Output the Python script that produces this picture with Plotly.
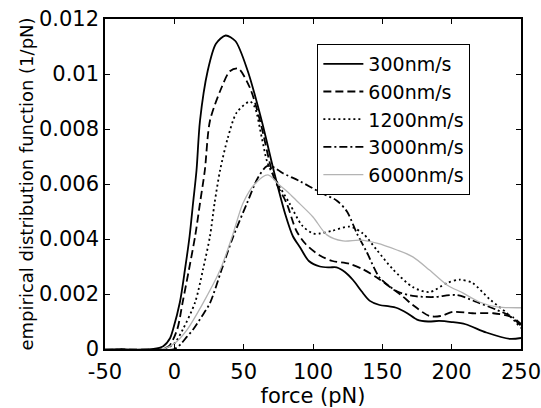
import plotly.graph_objects as go

labels = ["300nm/s", "600nm/s", "1200nm/s", "3000nm/s", "6000nm/s"]

f300 = [-50, -15, -8, -3, -1, 4, 7.7, 11, 13.5, 16, 18.5, 24, 30, 37, 44, 53, 63, 72.6, 80, 85.5, 90.6, 97, 105, 112, 117, 123, 129, 135, 141, 148, 155, 160, 168, 175, 183, 191, 200, 210, 225, 242, 250]
v300 = [0, 0, 0.0001, 0.0004, 0.0007, 0.0017, 0.0029, 0.0041, 0.0053, 0.0065, 0.0083, 0.0101, 0.0111, 0.0114, 0.0112, 0.0101, 0.0083, 0.0063, 0.0049, 0.0041, 0.0037, 0.0032, 0.0030, 0.00297, 0.00297, 0.0028, 0.0025, 0.0021, 0.00175, 0.0016, 0.00155, 0.0015, 0.0013, 0.00107, 0.001, 0.00102, 0.00098, 0.0009, 0.0006, 0.00037, 0.0004]

f600 = [-50, -10, -4, 2, 6, 10.6, 15, 18.5, 22, 25.7, 34, 40, 46, 54.5, 61.8, 72, 81, 88, 95, 105, 114, 126, 136, 146, 157, 165, 172, 184, 192, 201, 215, 230, 242, 250]
v600 = [0, 0, 0.0001, 0.0007, 0.0017, 0.0029, 0.0041, 0.0053, 0.0065, 0.0083, 0.0095, 0.0101, 0.0102, 0.0095, 0.0083, 0.0062, 0.0053, 0.0043, 0.0038, 0.0034, 0.0032, 0.0031, 0.0029, 0.0026, 0.0022, 0.0019, 0.0016, 0.0012, 0.0012, 0.00135, 0.0013, 0.0013, 0.00118, 0.00085]

f1200 = [-50, -8, 0, 6, 15, 20.7, 25.7, 29, 33, 38.7, 45, 54.5, 58, 63, 67, 72.6, 83, 92, 100, 105, 114, 126.6, 136, 146, 157.6, 172, 184, 196.6, 206, 215, 227.6, 240, 250]
v1200 = [0, 0, 0.0002, 0.0007, 0.0017, 0.0029, 0.0041, 0.0053, 0.0065, 0.0077, 0.0086, 0.009, 0.0088, 0.0077, 0.0068, 0.0062, 0.0053, 0.0045, 0.0042, 0.0042, 0.0043, 0.00445, 0.0042, 0.0036, 0.0029, 0.00225, 0.00207, 0.0024, 0.00252, 0.0024, 0.0018, 0.0013, 0.00076]

f3000 = [-50, 0, 5, 9, 13.4, 20, 25.7, 34, 42.3, 52.4, 60, 66.8, 72, 78, 90.6, 105, 117, 124.5, 131.7, 139, 148, 160.5, 172, 186.5, 203.8, 218, 232.6, 244, 250]
v3000 = [0, 0, 0.0002, 0.00044, 0.0007, 0.0012, 0.00167, 0.00287, 0.00407, 0.0053, 0.0062, 0.00665, 0.0066, 0.0064, 0.0061, 0.0057, 0.0054, 0.0050, 0.0042, 0.0035, 0.0026, 0.0021, 0.00193, 0.00189, 0.00196, 0.00171, 0.00142, 0.00116, 0.00091]

f6000 = [-50, -8, 0, 9, 20.7, 33, 41.6, 49.5, 58, 67.5, 75, 82, 88, 100, 110, 121.6, 134, 146, 160.5, 172, 184, 196.6, 208, 220, 232.6, 250]
v6000 = [0, 0, 0.0002, 0.00069, 0.00167, 0.00287, 0.00407, 0.0053, 0.006, 0.00633, 0.006, 0.0057, 0.0054, 0.0048, 0.00415, 0.00393, 0.00396, 0.00385, 0.0036, 0.00335, 0.00287, 0.00233, 0.00204, 0.00171, 0.00153, 0.0015]

x_ticks = [-50, 0, 50, 100, 150, 200, 250]
x_ticktext = ["-50", "0", "50", "100", "150", "200", "250"]
y_ticks = [0, 0.002, 0.004, 0.006, 0.008, 0.01, 0.012]
y_ticktext = ["0", "0.002", "0.004", "0.006", "0.008", "0.01", "0.012"]

series = [(f300, v300), (f600, v600), (f1200, v1200), (f3000, v3000), (f6000, v6000)]
styles = [
    dict(color="black", dash="solid", width=1.8),
    dict(color="black", dash="8px,4px", width=1.8),
    dict(color="black", dash="2px,3px", width=1.8),
    dict(color="black", dash="8px,3px,2px,3px", width=1.8),
    dict(color="#b4b4b4", dash="solid", width=1.3),
]

fig = go.Figure()
for (x, y), lab, st in zip(series, labels, styles):
    fig.add_trace(go.Scatter(x=x, y=y, mode="lines", name=lab,
                             line=dict(shape="spline", smoothing=0.8, **st)))

font = "DejaVu Sans, sans-serif"
fig.update_layout(
    width=541, height=408,
    margin=dict(l=105, r=20, t=19, b=59, autoexpand=False),
    paper_bgcolor="white", plot_bgcolor="white",
    font=dict(family=font, size=21, color="black"),
    showlegend=True,
    legend=dict(x=0.51, y=0.925, xanchor="left", yanchor="top",
                bordercolor="black", borderwidth=1.2, bgcolor="white",
                font=dict(size=19), itemwidth=40, tracegroupgap=0),
    xaxis=dict(range=[-50, 250], tickvals=x_ticks, ticktext=x_ticktext,
               automargin=False,
               ticks="inside", ticklen=5, tickwidth=1, tickcolor="black",
               ticklabeloverflow="allow", ticklabelstandoff=3,
               showline=True, linecolor="black", linewidth=1.5, mirror="ticks",
               showgrid=False, zeroline=False,
               title=dict(text="force (pN)", standoff=0, font=dict(size=21))),
    yaxis=dict(range=[0, 0.012], tickvals=y_ticks, ticktext=y_ticktext,
               automargin=False,
               ticks="inside", ticklen=5, tickwidth=1, tickcolor="black",
               ticklabeloverflow="allow",
               showline=True, linecolor="black", linewidth=1.5, mirror="ticks",
               showgrid=False, zeroline=False,
               title=dict(text="empirical distribution function (1/pN)", standoff=1, font=dict(size=18))),
)

fig.write_html("out.html", config={"displayModeBar": False},
               post_script="document.body.style.margin='0';document.body.style.overflow='hidden';")
